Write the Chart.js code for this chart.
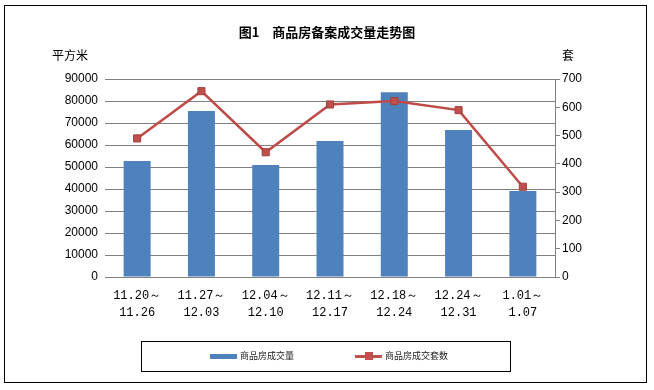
<!DOCTYPE html>
<html><head><meta charset="utf-8">
<script src="https://cdn.jsdelivr.net/npm/chart.js@4.4.0/dist/chart.umd.min.js"></script>
<style>
html,body{margin:0;padding:0;background:#fff;}
#wrap{position:relative;width:654px;height:390px;overflow:hidden;}
#frame{position:absolute;left:4px;top:5px;width:643px;height:378px;border:1px solid #000;box-sizing:border-box;}
canvas{position:absolute;left:0;top:0;}
.t{position:absolute;font-family:"Noto Sans CJK SC",sans-serif;color:#000;white-space:nowrap;}
#title{left:0;width:654px;text-align:center;top:22px;font-size:13px;font-weight:bold;}
#lu{left:52px;top:46px;font-size:12px;}
#ru{left:562px;top:46px;font-size:12px;}
#legend{position:absolute;left:141px;top:341px;width:370px;height:31px;border:1px solid #000;box-sizing:border-box;}
.li{position:absolute;top:7px;font-family:"Noto Sans CJK SC",sans-serif;font-size:9px;color:#222;line-height:14px;white-space:nowrap;}
.sw{display:inline-block;vertical-align:middle;}
</style></head>
<body><div id="wrap">
<div id="frame"></div>
<canvas id="c" width="654" height="390"></canvas>
<div class="t" id="title">图1　商品房备案成交量走势图</div>
<div class="t" id="lu">平方米</div>
<div class="t" id="ru">套</div>
<div id="legend">
  <div class="li" style="left:68px;"><span class="sw" style="width:27px;height:5px;background:#4F81BD;margin-right:3px;"></span>商品房成交量</div>
  <div class="li" style="left:213px;"><span class="sw" style="position:relative;width:27px;height:3px;background:#C0504D;margin-right:3px;"><span style="position:absolute;left:10px;top:-3px;width:8px;height:8px;background:#C0504D;"></span></span>商品房成交套数</div>
</div>
</div>
<script>
const categories = [["11.20～","11.26"],["11.27～","12.03"],["12.04～","12.10"],["12.11～","12.17"],["12.18～","12.24"],["12.24～","12.31"],["1.01～","1.07"]];
const areaValues = [52700, 75400, 50900, 61800, 84000, 66800, 39100];
const unitValues = [490, 657, 441, 610, 622, 590, 319];
const leftTicks = {min:0, max:90000, step:10000};
const rightTicks = {min:0, max:700, step:100};

new Chart(document.getElementById('c'), {
  data: {
    labels: categories,
    datasets: [
      {type:'line', label:'商品房成交套数', data:unitValues, yAxisID:'y1',
       borderColor:'#BE4B48', borderWidth:2.5, pointStyle:'rect', pointRadius:5,
       pointBackgroundColor:'#C0504D', pointBorderColor:'#A33E3B', pointBorderWidth:1,
       tension:0, order:0},
      {type:'bar', label:'商品房成交量', data:areaValues, yAxisID:'y',
       backgroundColor:'#4F81BD', barPercentage:0.84, categoryPercentage:0.5, order:1}
    ]
  },
  options: {
    responsive:false, animation:false,
    layout:{padding:{top:79,left:0,right:0,bottom:0}},
    plugins:{legend:{display:false}, tooltip:{enabled:false}},
    scales:{
      x:{
        grid:{display:false, drawTicks:false},
        border:{display:true, color:'#808080'},
        ticks:{color:'#000', font:{family:'Liberation Mono', size:12, lineHeight:1.45}, padding:10, maxRotation:0, autoSkip:false},
        afterFit:s=>{s.height=113;}
      },
      y:{
        position:'left', min:leftTicks.min, max:leftTicks.max,
        grid:{color:'#808080', drawTicks:false},
        border:{display:false},
        ticks:{stepSize:leftTicks.step, color:'#000', font:{family:'Liberation Sans', size:12}, padding:7, callback:v=>String(v)},
        afterFit:s=>{s.width=105;}
      },
      y1:{
        position:'right', min:rightTicks.min, max:rightTicks.max,
        grid:{drawOnChartArea:false, color:'#808080', tickLength:5},
        border:{display:true, color:'#808080'},
        ticks:{stepSize:rightTicks.step, color:'#000', font:{family:'Liberation Sans', size:12}, padding:2, callback:v=>String(v)},
        afterFit:s=>{s.width=99;}
      }
    }
  }
});
</script>
</body></html>
